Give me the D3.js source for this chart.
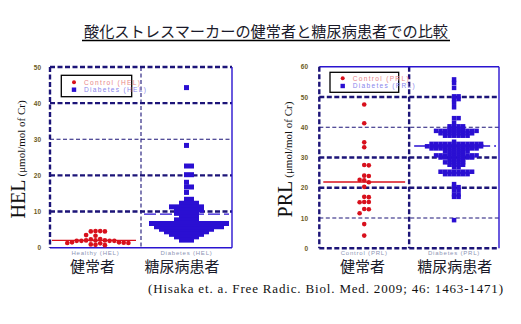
<!DOCTYPE html>
<html><head><meta charset="utf-8">
<script src="https://cdn.jsdelivr.net/npm/d3@7"></script>
<style>body{margin:0;background:#fff} svg{display:block}</style>
</head><body><svg width="521" height="324"></svg>
<script>
// ---------- data ----------
const title = "酸化ストレスマーカーの健常者と糖尿病患者での比較";
const citation = "(Hisaka et. a. Free Radic. Biol. Med. 2009; 46: 1463-1471)";
const groupsJP = ["健常者", "糖尿病患者"];
const helGroups = ["Healthy (HEL)", "Diabetes (HEL)"];
const prlGroups = ["Control (PRL)", "Diabetes (PRL)"];
const helLegend = ["Control (HEL)", "Diabetes (HEL)"];
const prlLegend = ["Control (PRL)", "Diabetes (PRL)"];
const helTicks = [0, 10, 20, 30, 40, 50];
const prlTicks = [0, 10, 20, 30, 40, 50, 60];
const helControl = [4.6, 4.5, 4.5, 4.6, 3.5, 3.3, 2.4, 2.3, 2.0, 2.0, 2.0, 1.9, 1.9, 1.9, 1.9,
  1.5, 1.5, 1.4, 1.3, 1.3, 1.2, 0.9, 0.8, 0.7];
const helDiabetes = [44.3, 28.3, 22.6, 22.6, 20.2, 20.2, 18.1, 16.8, 16.8, 15.3, 13.4, 13.4,
  12.3, 12.3, 12.3, 12.3,
  11.3, 11.3, 11.3, 11.3, 11.3, 11.3, 11.3,
  10.4, 10.4, 10.4, 10.4, 10.4, 10.4,
  9.5, 9.5, 9.5, 9.5, 9.5,
  8.6, 8.6, 8.6, 8.6,
  7.7, 7.7, 7.7, 7.7, 7.7,
  6.7, 6.7, 6.7, 6.7, 6.7, 6.7, 6.7, 6.7, 6.7, 6.7, 6.7, 6.7, 6.7, 6.7, 6.7, 6.7,
  5.8, 5.8, 5.8, 5.8, 5.8, 5.8, 5.8, 5.8, 5.8, 5.8, 5.8, 5.8, 5.8, 5.8,
  5.1, 5.1, 5.1, 5.1, 5.1, 5.1, 5.1, 5.1, 5.1, 5.1, 5.1,
  4.4, 4.4, 4.4, 4.4, 4.4, 4.4, 4.4, 4.4, 4.4,
  3.7, 3.7, 3.7, 3.7, 3.7, 3.7, 3.7,
  3.0, 3.0, 3.0, 3.0, 3.0,
  2.1, 2.1, 2.1];
const prlControl = [47.5, 41.3, 35.0, 33.4, 27.5, 27.4, 24.0, 23.9, 22.6, 22.5, 21.8, 20.3,
  17.0, 16.9, 15.3, 15.3, 15.2, 13.0, 12.9, 11.6, 8.0, 4.2];
const prlDiabetes = [55.8, 54.6, 53.0, 50.2, 50.2, 49.3, 49.3, 48.1, 46.6, 43.0, 43.0, 41.5,
  40.3, 40.3, 40.3, 40.3, 39.5, 39.5, 39.5, 39.5,
  38.8, 38.8, 38.8, 38.8, 38.8, 38.8, 38.8, 38.8, 38.8, 38.8,
  38.0, 38.0, 38.0, 38.0, 38.0, 38.0, 38.0, 38.0,
  37.2, 37.2, 37.2, 37.2, 37.2, 37.2, 35.2,
  34.5, 34.5, 34.5, 34.5, 34.5, 34.5, 34.5, 34.5, 34.5, 34.5, 34.5, 34.5,
  33.7, 33.7, 33.7, 33.7, 33.7, 33.7, 33.7, 33.7, 33.7, 33.7, 33.7, 33.7, 33.7,
  33.0, 33.0, 33.0, 33.0, 33.0, 33.0, 33.0, 33.0, 33.0, 33.0, 33.0,
  32.2, 32.2, 32.2, 32.2, 32.2, 32.2, 31.5, 31.5, 31.5, 31.5,
  30.7, 30.7, 30.7, 30.7, 30.7, 30.7, 30.7, 30.7, 30.7, 30.7,
  30.0, 30.0, 30.0, 30.0, 30.0, 30.0, 30.0, 30.0,
  29.2, 29.2, 29.2, 29.2, 28.4, 28.4, 28.4, 28.4, 28.4,
  27.6, 27.6, 27.6, 27.6, 26.8, 26.8,
  25.3, 25.3, 25.3, 25.3, 25.3, 25.3, 25.3, 25.3,
  24.5, 24.5, 24.5, 24.5, 24.5, 24.5,
  21.2, 20.2, 20.2, 19.2, 19.2, 17.8, 17.8, 17.0, 17.0, 9.3];
const helMedians = [2.0, 9.3];
const prlMedians = [21.9, 33.8];

// ---------- drawing ----------
const svg = d3.select("svg");
const RED = "#d8101c", BLUE = "#2a0fd2", NAVY = "#1c1478", SOLID = "#2a14d0";

svg.append("text").attr("x", 266).attr("y", 37).attr("text-anchor", "middle")
  .attr("font-family", "'Noto Sans CJK JP', sans-serif").attr("font-size", 15.2)
  .attr("fill", "#1a1a2a").text(title);
svg.append("line").attr("x1", 82).attr("x2", 450).attr("y1", 40.5).attr("y2", 40.5)
  .attr("stroke", "#000").attr("stroke-width", 1.3);

function swarm(vals, cx, y, w, h, circle) {
  const pts = vals.map(v => ({v, y: y(v)})).sort((a, b) => d3.descending(a.v, b.v));
  const placed = [];
  for (const p of pts) {
    for (let k = 0; k < 80; k++) {
      const off = k === 0 ? 0 : (k % 2 ? 1 : -1) * Math.ceil(k / 2) * w;
      const x = cx + off;
      const hit = placed.some(q => circle
        ? ((q.x - x) ** 2 + (q.y - p.y) ** 2 < w * w * 0.85)
        : (Math.abs(q.x - x) < w - 0.01 && Math.abs(q.y - p.y) < h));
      if (!hit) { p.x = x; placed.push(p); break; }
    }
  }
  return placed;
}

function panel(o) {
  const g = svg.append("g");
  const y = d3.scaleLinear().domain([0, o.max]).range([o.bottom, o.top]);
  const x = d3.scaleBand().domain(o.groups).range([o.left, o.right]);
  const dash = (sel, thick) => sel.attr("stroke", NAVY)
    .attr("stroke-width", thick ? 2.4 : 1.1)
    .attr("stroke-dasharray", thick ? "5,2.5" : "4,2.5").attr("fill", "none");

  o.ticks.filter(t => t > 0 && t < o.max).forEach(t => {
    g.append("line").attr("x1", o.left).attr("x2", o.right).attr("y1", y(t)).attr("y2", y(t))
      .call(dash, o.thick.includes(t));
  });
  const mid = x(o.groups[1]);
  g.append("line").attr("x1", mid).attr("x2", mid).attr("y1", o.top).attr("y2", o.bottom)
    .call(dash, o.thickMid);
  const edge = (x1, y1, x2, y2, kind) => {
    const l = g.append("line").attr("x1", x1).attr("y1", y1).attr("x2", x2).attr("y2", y2);
    if (kind === "solid") l.attr("stroke", SOLID).attr("stroke-width", 1.4);
    else l.call(dash, true);
  };
  edge(o.left, o.top, o.right, o.top, o.edges[0]);
  edge(o.right, o.top, o.right, o.bottom, o.edges[1]);
  edge(o.left, o.bottom, o.right, o.bottom, o.edges[2]);
  edge(o.left, o.top, o.left, o.bottom, o.edges[3]);

  const ax = g.append("g").attr("transform", `translate(${o.tickX},0)`)
    .call(d3.axisLeft(y).tickValues(o.ticks).tickSize(0).tickPadding(0));
  ax.select(".domain").remove();
  ax.selectAll("text").attr("font-family", "Arial, 'Liberation Sans', sans-serif")
    .attr("font-size", 6.5).attr("font-weight", "bold").attr("fill", "#6b5b1a");

  const t = g.append("text").attr("transform", `translate(${o.titleX},${(o.top + o.bottom) / 2 + 2}) rotate(-90)`)
    .attr("text-anchor", "middle").attr("font-family", "'Liberation Serif', 'Times New Roman', serif")
    .attr("fill", "#111");
  t.append("tspan").attr("font-size", 20).text(o.name);
  t.append("tspan").attr("font-size", 11).attr("dx", 3).text("(μmol/mol of Cr)");

  const c0 = x(o.groups[0]), c1 = x(o.groups[1]), bw = x.bandwidth();
  g.append("line").attr("x1", c0 + o.medInset[0]).attr("x2", c0 + bw - o.medInset[1])
    .attr("y1", y(o.medians[0])).attr("y2", y(o.medians[0]))
    .attr("stroke", RED).attr("stroke-width", 1.3);
  g.append("line").attr("x1", c1 + o.medInset[2]).attr("x2", c1 + bw - o.medInset[3])
    .attr("y1", y(o.medians[1])).attr("y2", y(o.medians[1]))
    .attr("stroke", BLUE).attr("stroke-width", 1.3).attr("stroke-dasharray", "12,4");

  const cp = swarm(o.control, c0 + bw / 2, y, o.circ, 0, true);
  g.selectAll(null).data(cp).join("circle").attr("cx", d => d.x).attr("cy", d => d.y)
    .attr("r", o.circ / 2).attr("fill", RED);
  const dp = swarm(o.diabetes, c1 + bw / 2, y, o.sq, o.rowH, false);
  g.selectAll(null).data(dp).join("rect").attr("x", d => d.x - o.sq / 2).attr("y", d => d.y - o.sq / 2)
    .attr("width", o.sq).attr("height", o.sq).attr("fill", BLUE);

  const L = o.legend;
  g.append("rect").attr("x", L[0]).attr("y", L[1]).attr("width", L[2]).attr("height", L[3])
    .attr("fill", "none").attr("stroke", "#000").attr("stroke-width", 1.3);
  g.append("circle").attr("cx", L[4]).attr("cy", L[5]).attr("r", 2).attr("fill", RED);
  g.append("rect").attr("x", L[4] - 2.2).attr("y", L[6] - 2.2).attr("width", 4.4).attr("height", 4.4).attr("fill", BLUE);
  [[o.legendText[0], L[5], "#e8868a"], [o.legendText[1], L[6], "#8a86ec"]].forEach(([s, yy, c]) => {
    g.append("text").attr("x", L[4] + 10).attr("y", yy + 2.4).attr("font-size", 6.6)
      .attr("font-family", "Arial, 'Liberation Sans', sans-serif").attr("letter-spacing", 1.3)
      .attr("fill", c).text(s);
  });

  o.groups.forEach((gname, i) => {
    const cx = x(gname) + bw / 2;
    g.append("text").attr("x", cx).attr("y", o.bottom + 7).attr("text-anchor", "middle")
      .attr("font-size", 6).attr("letter-spacing", 0.8).attr("fill", "#8c94b4")
      .attr("font-family", "Arial, 'Liberation Sans', sans-serif").text(gname);
    g.append("text").attr("x", o.jpX[i]).attr("y", 272).attr("text-anchor", "middle")
      .attr("font-family", "'Noto Sans CJK JP', sans-serif").attr("font-size", 15)
      .attr("fill", "#1a1a2a").text(groupsJP[i]);
  });
}

panel({
  name: "HEL", max: 50, ticks: helTicks, thick: [10, 20, 40], thickMid: false,
  left: 50, right: 232, top: 67, bottom: 247.7, groups: helGroups,
  edges: ["dash", "solid", "solid", "dash"], tickX: 41, titleX: 25,
  control: helControl, diabetes: helDiabetes, medians: helMedians, medInset: [2, 5, 3, 3],
  circ: 4.7, sq: 5, rowH: 1.2,
  legend: [61.3, 75.3, 70.4, 21.4, 74, 82.3, 89.7], legendText: helLegend, jpX: [92.5, 182]
});
panel({
  name: "PRL", max: 60, ticks: prlTicks, thick: [20, 30, 50], thickMid: true,
  left: 319.3, right: 499, top: 66.7, bottom: 248.3, groups: prlGroups,
  edges: ["solid", "solid", "dash", "dash"], tickX: 308, titleX: 292,
  control: prlControl, diabetes: prlDiabetes, medians: prlMedians, medInset: [4, 4, 5, 3],
  circ: 4.6, sq: 4.5, rowH: 1.2,
  legend: [330, 72.3, 68.7, 20, 342.7, 78.3, 86], legendText: prlLegend, jpX: [362.5, 454.7]
});

svg.append("text").attr("x", 148).attr("y", 293).attr("font-family", "'Liberation Serif', 'Times New Roman', serif")
  .attr("font-size", 13).attr("fill", "#111").attr("textLength", 355).attr("lengthAdjust", "spacing")
  .text(citation);
</script></body></html>
